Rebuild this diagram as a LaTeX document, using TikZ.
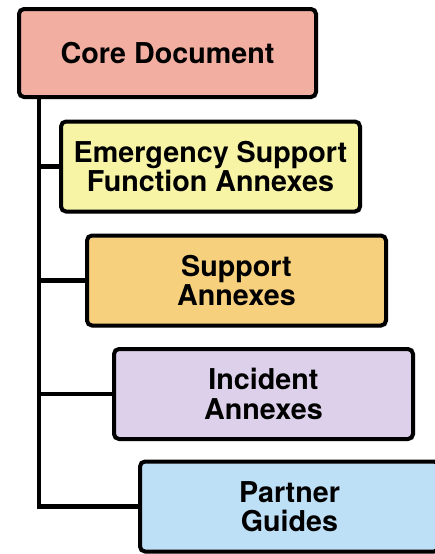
\documentclass[tikz,border=0pt]{standalone}
\usepackage{fontspec}
\setmainfont{TeX Gyre Heros}
\usetikzlibrary{shadows}
\definecolor{corec}{HTML}{F2AEA1}
\definecolor{esfc}{HTML}{F7F4A6}
\definecolor{supc}{HTML}{F6D07C}
\definecolor{incc}{HTML}{DDD0EA}
\definecolor{parc}{HTML}{BEE0F7}
\tikzset{
  box/.style={draw=black, line width=4pt, rounded corners=5pt, minimum width=299pt, minimum height=90pt,
    align=center, inner sep=0pt, font=\fontsize{28.7}{29.5}\selectfont\bfseries,
    drop shadow={opacity=0.18, shadow xshift=2pt, shadow yshift=-2pt}},
  conn/.style={draw=black, line width=4.5pt}
}
\begin{document}
\begin{tikzpicture}[x=1pt,y=1pt]
\useasboundingbox (0,0) rectangle (435,-554);
\clip (0,0) rectangle (435,-554);
\fill[white] (0,0) rectangle (435,-554);
\node[box, fill=corec, minimum width=297pt, minimum height=88pt] (core) at (167.5,-53) {Core Document};
\node[box, fill=esfc] (esf) at (210.5,-166.5) {Emergency Support\\Function Annexes};
\node[box, fill=supc] (sup) at (236.5,-280.5) {Support\\Annexes};
\node[box, fill=incc] (inc) at (263.5,-394) {Incident\\Annexes};
\node[box, fill=parc] (par) at (289.5,-506.5) {Partner\\Guides};
\coordinate (tx) at (39,0);
\draw[conn] (core.south -| tx) |- (par.west);
\draw[conn] (tx |- esf.west) -- (esf.west);
\draw[conn] (tx |- sup.west) -- (sup.west);
\draw[conn] (tx |- inc.west) -- (inc.west);
\end{tikzpicture}
\end{document}
